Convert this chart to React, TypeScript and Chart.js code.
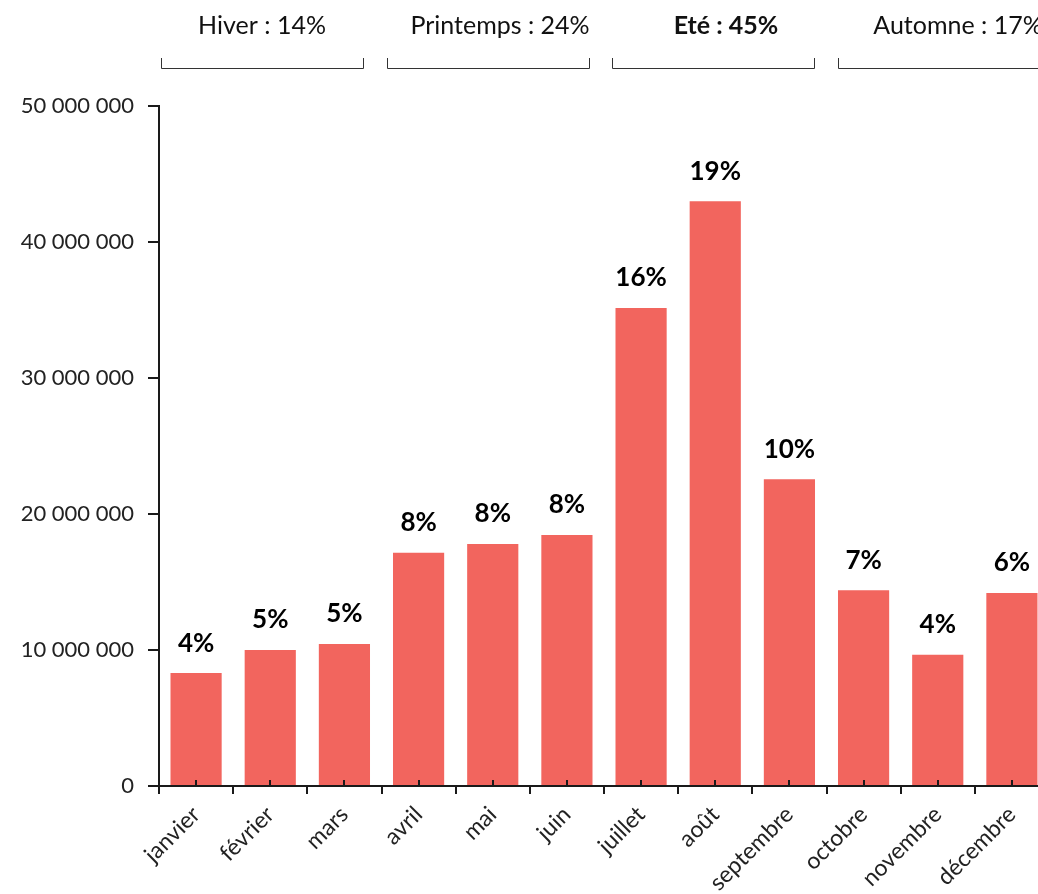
import React, { useEffect, useRef } from "react";
import { Chart, registerables } from "chart.js";

Chart.register(...registerables);

const months = ["janvier", "février", "mars", "avril", "mai", "juin", "juillet", "août", "septembre", "octobre", "novembre", "décembre"];
const visitors = [8300000, 10000000, 10450000, 17150000, 17800000, 18450000, 35150000, 43000000, 22550000, 14400000, 9650000, 14200000];
const shares = ["4%", "5%", "5%", "8%", "8%", "8%", "16%", "19%", "10%", "7%", "4%", "6%"];
const seasonLabels = ["Hiver : 14%", "Printemps : 24%", "Eté : 45%", "Automne : 17%"];
const seasonBold = [false, false, true, false];
const yMax = 50000000;
const yStep = 10000000;

const W = 1060;
const H = 894;
const FONT = "Lato, 'Noto Sans', sans-serif";
const BAR = "rgb(242, 101, 94)";
const INK = "#1a1a1a";

function fmt(v: number): string {
  return String(Math.round(v)).replace(/\B(?=(\d{3})+(?!\d))/g, " ");
}

const overlay = {
  id: "overlay",
  afterDraw(chart: any) {
    const ctx = chart.ctx;
    const area = chart.chartArea;
    const xs = chart.scales.x;
    ctx.save();
    // value labels
    ctx.fillStyle = "#000";
    ctx.font = `bold 26px ${FONT}`;
    ctx.textAlign = "center";
    ctx.textBaseline = "middle";
    const bars = chart.getDatasetMeta(0).data;
    bars.forEach((b: any, i: number) => {
      ctx.fillText(shares[i], b.x, b.y - 30);
    });
    // small ticks at category centers
    ctx.strokeStyle = INK;
    ctx.lineWidth = 2;
    months.forEach((_, i) => {
      const x = Math.round(xs.getPixelForValue(i));
      ctx.beginPath();
      ctx.moveTo(x, area.bottom - 6);
      ctx.lineTo(x, area.bottom);
      ctx.stroke();
    });
    // x-axis extension to the left
    ctx.beginPath();
    ctx.moveTo(area.left - 7, area.bottom);
    ctx.lineTo(area.left, area.bottom);
    ctx.stroke();
    // season brackets and labels
    const bStarts = [2, 228, 453, 679];
    const bWidth = 202;
    const tCenters = [103, 341, 567, 799];
    ctx.lineWidth = 1;
    ctx.strokeStyle = "#333";
    seasonLabels.forEach((lab, i) => {
      const x0 = area.left + bStarts[i] + 0.5;
      const x1 = x0 + bWidth;
      ctx.beginPath();
      ctx.moveTo(x0, 58);
      ctx.lineTo(x0, 68.5);
      ctx.lineTo(x1, 68.5);
      ctx.lineTo(x1, 58);
      ctx.stroke();
      ctx.fillStyle = "#111";
      ctx.font = `${seasonBold[i] ? "bold " : ""}25px ${FONT}`;
      ctx.fillText(lab, area.left + tCenters[i], 26);
    });
    ctx.restore();
  },
};

export default function App() {
  const ref = useRef<HTMLCanvasElement | null>(null);
  useEffect(() => {
    if (!ref.current) return;
    const chart = new Chart(ref.current, {
      type: "bar",
      data: {
        labels: months,
        datasets: [
          {
            data: visitors,
            backgroundColor: BAR,
            barPercentage: 0.69,
            categoryPercentage: 1.0,
          },
        ],
      },
      options: {
        animation: false,
        responsive: false,
        devicePixelRatio: 1,
        layout: { padding: { top: 106, left: 0, right: 11, bottom: 0 } },
        plugins: { legend: { display: false }, tooltip: { enabled: false } },
        scales: {
          x: {
            afterFit: (s: any) => {
              s.height = H - 786;
            },
            grid: {
              display: true,
              drawOnChartArea: false,
              drawTicks: true,
              tickLength: 8,
              lineWidth: 2,
              color: INK,
              offset: true,
            },
            border: { display: true, width: 2, color: INK },
            ticks: {
              font: { family: FONT, size: 23 },
              color: "#222",
              minRotation: 45,
              maxRotation: 45,
              padding: 7,
              autoSkip: false,
            },
          },
          y: {
            min: 0,
            max: yMax,
            afterFit: (s: any) => {
              s.width = 159;
            },
            grid: {
              display: true,
              drawOnChartArea: false,
              drawTicks: true,
              tickLength: 11,
              lineWidth: 2,
              color: INK,
            },
            border: { display: true, width: 2, color: INK },
            ticks: {
              stepSize: yStep,
              padding: 14,
              color: "#222",
              font: { family: FONT, size: 22 },
              callback: (v: any) => fmt(Number(v)),
            },
          },
        },
      },
      plugins: [overlay],
    });
    return () => chart.destroy();
  }, []);
  return (
    <div style={{ position: "fixed", left: 0, top: 0, width: 1038, height: 894, overflow: "hidden", background: "#fff" }}>
      <canvas ref={ref} width={W} height={H} style={{ display: "block", width: W, height: H }} />
    </div>
  );
}
